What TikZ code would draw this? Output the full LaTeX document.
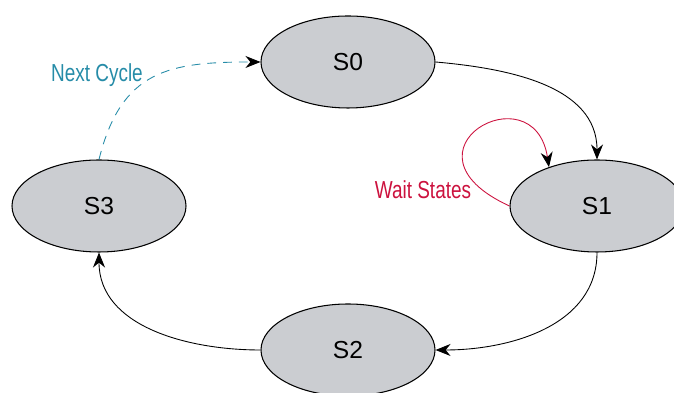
\documentclass[tikz,border=0pt]{standalone}
\usepackage{fontspec}
\setmainfont{Liberation Sans}
\newfontfamily\narrowfont{Liberation Sans}[FakeStretch=0.77]
\usetikzlibrary{arrows.meta,shapes.geometric}
\definecolor{stategray}{RGB}{203,205,209}
\definecolor{waitred}{RGB}{204,18,62}
\definecolor{cycteal}{RGB}{38,140,168}

\begin{document}
\begin{tikzpicture}[font=\fontsize{14}{16}\selectfont, >={Stealth[length=3mm,width=2.4mm]},
          st/.style={draw, ellipse, fill=stategray, line width=0.6pt, inner sep=0pt, minimum width=3.48cm, minimum height=1.84cm},
          tr/.style={->, line width=0.5pt},
          lbl/.style={font=\narrowfont\fontsize{14}{16}\selectfont, inner sep=0pt}]
        \useasboundingbox (0,0) rectangle (13.48,7.86);
        \node[st] (s0) at (6.96,6.62) {S0};
        \node[st] (s1) at (11.94,3.74) {S1};
        \node[st] (s2) at (6.96,0.86) {S2};
        \node[st] (s3) at (1.98,3.74) {S3};
        \node[lbl, text=cycteal] (nextlbl) at (1.94,6.36) {Next Cycle};
        \node[lbl, text=waitred] (waitlbl) at (8.46,4.06) {Wait States};
        \draw[tr] (s0.east) to[out=-5, in=90] (s1.north);
        \draw[tr] (s1.south) to[out=-90, in=0] (s2.east);
        \draw[tr] (s2.west) to[out=180, in=-90] (s3.south);
        \draw[tr, cycteal, dashed, dash pattern=on 5pt off 4pt, -{Stealth[length=3mm,width=2.4mm,black]}] (s3.north) to[out=76, in=180, looseness=1.25] (s0.west);
        \draw[tr, waitred, -{Stealth[length=3mm,width=2.4mm,black]}] (s1.west) .. controls +(-2.4,1.1) and +(-0.3,1.95) .. (s1.141);
      \end{tikzpicture}
\end{document}
